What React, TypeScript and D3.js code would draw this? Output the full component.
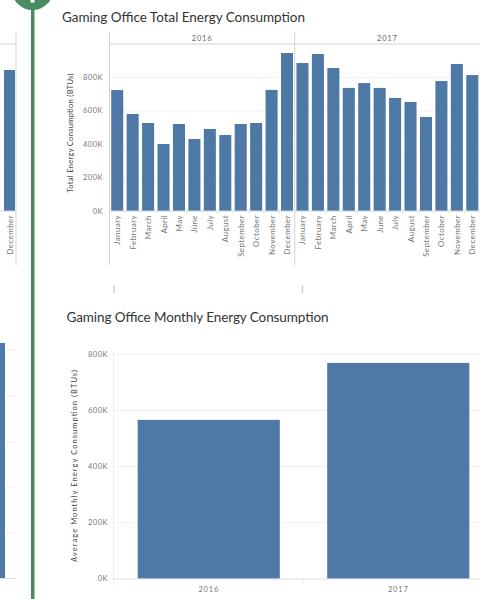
import React from 'react';
import * as d3 from 'd3';

const months = ['January', 'February', 'March', 'April', 'May', 'June', 'July', 'August', 'September', 'October', 'November', 'December'];
const years = ['2016', '2017'];
const energy2016 = [724000, 581000, 527000, 401000, 521000, 431000, 491000, 455000, 521000, 527000, 725000, 946000];
const energy2017 = [886000, 940000, 856000, 737000, 766000, 737000, 677000, 653000, 563000, 778000, 880000, 814000];
const monthlyAverage = [566000, 769000];
const valueTicks = [0, 200000, 400000, 600000, 800000];

const FONT = "Lato, 'Open Sans', sans-serif";
const BAR = '#4e79a7';
const GREEN = '#4a8b62';

const fmt = (v: number) => `${v / 1000}K`;

export default function App() {
  // Top chart scales
  const yTop = d3.scaleLinear().domain([0, 1000000]).range([211, 44]);
  const xPanel = d3.scaleBand<string>().domain(years).range([109.5, 480]);
  const xMonth = d3
    .scaleBand<string>()
    .domain(months)
    .range([0, xPanel.bandwidth()])
    .paddingInner(0.22)
    .paddingOuter(0.11);
  const series: Record<string, number[]> = { '2016': energy2016, '2017': energy2017 };

  // Bottom chart scales
  const yAvg = d3.scaleLinear().domain([0, 815000]).range([578.7, 350]);
  const xAvg = d3.scaleBand<string>().domain(years).range([114, 493]).paddingInner(0.25).paddingOuter(0.125);

  const step = xMonth.step();

  return (
    <svg
      width={500}
      height={599}
      style={{ position: 'absolute', left: 0, top: 0, background: '#fff' }}
      fontFamily={FONT}
    >
      {/* Left partial chart remnants */}
      <line x1={0} x2={16} y1={44} y2={44} stroke="#d4d4d4" />
      <line x1={16} x2={16} y1={32} y2={265} stroke="#d4d4d4" />
      {[117, 164].map((y) => (
        <line key={y} x1={0} x2={16} y1={y} y2={y} stroke="#f0f0f0" />
      ))}
      <rect x={4} y={70} width={11} height={141} fill={BAR} />
      <line x1={0} x2={16} y1={211} y2={211} stroke="#d0d0d0" />
      <text transform="translate(12.5,215) rotate(-90)" textAnchor="end" fontSize={8} fill="#777" letterSpacing={0.4}>
        December
      </text>
      {[350, 396, 442, 487, 533].map((y) => (
        <line key={y} x1={0} x2={17} y1={y} y2={y} stroke="#f0f0f0" />
      ))}
      <rect x={0} y={343} width={5} height={235} fill={BAR} />
      <line x1={0} x2={17} y1={578.5} y2={578.5} stroke="#dddddd" />

      {/* Green connector */}
      <rect x={31} y={0} width={3.5} height={599} fill={GREEN} />
      <circle cx={32.5} cy={-11} r={21} fill={GREEN} />
      <rect x={30.5} y={0} width={4} height={2.5} fill="#fff" />

      {/* ===== Top chart ===== */}
      <text x={62} y={22} fontSize={13.5} fill="#333" textLength={243} lengthAdjust="spacing">
        Gaming Office Total Energy Consumption
      </text>

      {/* gridlines */}
      {valueTicks.filter((v) => v > 0).map((v) => (
        <line key={v} x1={109.5} x2={480} y1={yTop(v)} y2={yTop(v)} stroke="#f0f0f0" />
      ))}

      {/* header */}
      <line x1={109.5} x2={480} y1={44} y2={44} stroke="#d4d4d4" />
      {years.map((yr) => (
        <text
          key={yr}
          x={(xPanel(yr) as number) + xPanel.bandwidth() / 2}
          y={40.5}
          textAnchor="middle"
          fontSize={7.5}
          fill="#666"
          letterSpacing={0.8}
        >
          {yr}
        </text>
      ))}

      {/* bars */}
      {years.map((yr) =>
        series[yr].map((v, i) => (
          <rect
            key={yr + i}
            x={(xPanel(yr) as number) + (xMonth(months[i]) as number)}
            y={yTop(v)}
            width={xMonth.bandwidth()}
            height={yTop(0) - yTop(v)}
            fill={BAR}
          />
        ))
      )}

      {/* axis line */}
      <line x1={109.5} x2={480} y1={211} y2={211} stroke="#d0d0d0" />

      {/* panel dividers */}
      {years.map((yr) => (
        <line key={yr} x1={xPanel(yr) as number} x2={xPanel(yr) as number} y1={32} y2={265} stroke="#d4d4d4" />
      ))}

      {/* band separators below axis */}
      {years.map((yr) =>
        months.map((m, i) =>
          i === 0 ? null : (
            <line
              key={yr + m}
              x1={(xPanel(yr) as number) + (xMonth(m) as number) - (step - xMonth.bandwidth()) / 2}
              x2={(xPanel(yr) as number) + (xMonth(m) as number) - (step - xMonth.bandwidth()) / 2}
              y1={211}
              y2={214}
              stroke="#e8e8e8"
            />
          )
        )
      )}

      {/* month labels */}
      {years.map((yr) =>
        months.map((m) => {
          const cx = (xPanel(yr) as number) + (xMonth(m) as number) + xMonth.bandwidth() / 2;
          return (
            <text
              key={yr + m}
              transform={`translate(${cx + 3},215) rotate(-90)`}
              textAnchor="end"
              fontSize={8}
              fill="#777"
              letterSpacing={0.4}
            >
              {m}
            </text>
          );
        })
      )}

      {/* y tick labels */}
      {valueTicks.map((v) => (
        <text key={v} x={103} y={yTop(v) + 2.5} textAnchor="end" fontSize={7.5} fill="#777" letterSpacing={0.5}>
          {fmt(v)}
        </text>
      ))}

      {/* y title */}
      <text
        transform="translate(72.5,133) rotate(-90)"
        textAnchor="middle"
        fontSize={7.5}
        fill="#444"
        textLength={119}
        lengthAdjust="spacing"
      >
        Total Energy Consumption (BTUs)
      </text>

      {/* scroll marks */}
      <line x1={114} x2={114} y1={285} y2={293} stroke="#cfcfcf" strokeWidth={1.5} />
      <line x1={302.5} x2={302.5} y1={285} y2={293} stroke="#cfcfcf" strokeWidth={1.5} />

      {/* ===== Bottom chart ===== */}
      <text x={66.5} y={322} fontSize={13.5} fill="#333" textLength={262} lengthAdjust="spacing">
        Gaming Office Monthly Energy Consumption
      </text>

      {valueTicks.filter((v) => v > 0).map((v) => (
        <line key={v} x1={113} x2={480} y1={yAvg(v)} y2={yAvg(v)} stroke="#f0f0f0" />
      ))}
      <line x1={113.5} x2={113.5} y1={352} y2={585} stroke="#ececec" />

      {years.map((yr, i) => (
        <rect
          key={yr}
          x={xAvg(yr) as number}
          y={yAvg(monthlyAverage[i])}
          width={xAvg.bandwidth()}
          height={yAvg(0) - yAvg(monthlyAverage[i])}
          fill={BAR}
        />
      ))}

      <line x1={113} x2={480} y1={579} y2={579} stroke="#dddddd" />
      <line x1={302.7} x2={302.7} y1={579} y2={584} stroke="#e6e6e6" />

      {years.map((yr) => (
        <text
          key={yr}
          x={(xAvg(yr) as number) + xAvg.bandwidth() / 2}
          y={592}
          textAnchor="middle"
          fontSize={7.5}
          fill="#777"
          letterSpacing={0.8}
        >
          {yr}
        </text>
      ))}

      {valueTicks.map((v) => (
        <text key={v} x={108} y={yAvg(v) + 2.5} textAnchor="end" fontSize={7.5} fill="#777" letterSpacing={0.5}>
          {fmt(v)}
        </text>
      ))}

      <text
        transform="translate(77,466) rotate(-90)"
        textAnchor="middle"
        fontSize={7.5}
        fill="#444"
        textLength={192}
        lengthAdjust="spacing"
      >
        Average Monthly Energy Consumption (BTUs)
      </text>
    </svg>
  );
}
